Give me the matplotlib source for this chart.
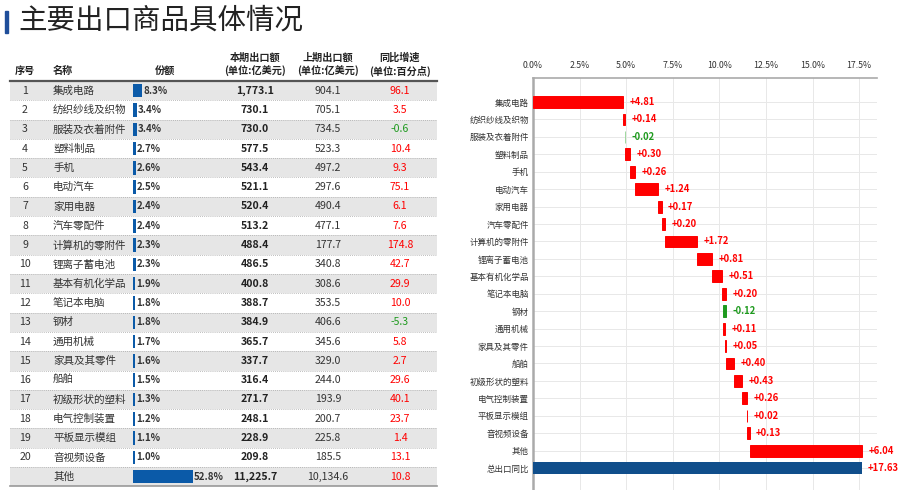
import numpy as np
import matplotlib
matplotlib.use("Agg")
import matplotlib.pyplot as plt

plt.rcParams['font.family'] = ['Noto Sans CJK SC', 'DejaVu Sans']

# ---- data ----
names = ['集成电路', '纺织纱线及织物', '服装及衣着附件', '塑料制品', '手机', '电动汽车',
         '家用电器', '汽车零配件', '计算机的零附件', '锂离子蓄电池', '基本有机化学品',
         '笔记本电脑', '钢材', '通用机械', '家具及其零件', '船舶', '初级形状的塑料',
         '电气控制装置', '平板显示模组', '音视频设备', '其他']
share = [8.3, 3.4, 3.4, 2.7, 2.6, 2.5, 2.4, 2.4, 2.3, 2.3, 1.9, 1.8, 1.8, 1.7, 1.6,
         1.5, 1.3, 1.2, 1.1, 1.0, 52.8]
cur_exp = [1773.1, 730.1, 730.0, 577.5, 543.4, 521.1, 520.4, 513.2, 488.4, 486.5,
           400.8, 388.7, 384.9, 365.7, 337.7, 316.4, 271.7, 248.1, 228.9, 209.8, 11225.7]
prev_exp = [904.1, 705.1, 734.5, 523.3, 497.2, 297.6, 490.4, 477.1, 177.7, 340.8,
            308.6, 353.5, 406.6, 345.6, 329.0, 244.0, 193.9, 200.7, 225.8, 185.5, 10134.6]
yoy = [96.1, 3.5, -0.6, 10.4, 9.3, 75.1, 6.1, 7.6, 174.8, 42.7, 29.9, 10.0, -5.3,
       5.8, 2.7, 29.6, 40.1, 23.7, 1.4, 13.1, 10.8]

contrib = [4.81, 0.14, -0.02, 0.30, 0.26, 1.24, 0.17, 0.20, 1.72, 0.81, 0.51, 0.20,
           -0.12, 0.11, 0.05, 0.40, 0.43, 0.26, 0.02, 0.13, 6.04]
total_label = '总出口同比'
total_value = 17.63
xticks = [0, 2.5, 5, 7.5, 10, 12.5, 15, 17.5]

RED = '#ff0000'
GREEN = '#1e9a1e'
BLUE = '#0b5aa8'
DARKBLUE = '#104e8b'

fig = plt.figure(figsize=(9, 4.9), dpi=100)

# ---- title ----
fig.patches.append(plt.Rectangle((5 / 900, 1 - 33 / 490), 3 / 900, 22 / 490,
                                 transform=fig.transFigure, color='#1f4e9a'))
fig.text(18 / 900, 1 - 21 / 490, '主要出口商品具体情况', fontsize=20.5,
         va='center', ha='left', color='#222222')

# ---- table (pixel-like coords) ----
ax = fig.add_axes([0, 0, 0.5, 1])
ax.set_xlim(0, 450)
ax.set_ylim(490, 0)
ax.axis('off')

x_no, x_name, x_bar, x_cur, x_prev, x_yoy = 25, 53, 133, 255, 328, 400
tab_l, tab_r = 10, 437
head_line = 81
row_h = 19.3
fs = 7.6

hdr = dict(fontsize=7.3, fontweight='bold', color='#222222', va='center')
ax.text(x_no, 71, '序号', ha='center', **hdr)
ax.text(x_name, 71, '名称', ha='left', **hdr)
ax.text(165, 71, '份额', ha='center', **hdr)
for xc, l1, l2 in [(x_cur, '本期出口额', '(单位:亿美元)'),
                   (x_prev, '上期出口额', '(单位:亿美元)'),
                   (x_yoy, '同比增速', '(单位:百分点)')]:
    ax.text(xc, 57.5, l1, ha='center', **hdr)
    ax.text(xc, 71, l2, ha='center', **hdr)
ax.plot([tab_l, tab_r], [head_line, head_line], color='#555555', lw=1.6)

n = len(names)
row_c = head_line + row_h * (np.arange(n) + 0.5)
for i in range(n):
    top = head_line + row_h * i
    if i % 2 == 0:
        ax.add_patch(plt.Rectangle((tab_l, top), tab_r - tab_l, row_h,
                                   color='#e6e6e6', zorder=0, lw=0))
    if i < n - 1:
        ax.plot([tab_l, tab_r], [top + row_h] * 2, color='#aaaaaa', lw=0.6,
                ls=(0, (1, 1.5)), zorder=1)
ax.plot([tab_l, tab_r], [head_line + row_h * n] * 2, color='#999999', lw=1.2)

bar_w = [max(s * 1.14, 2.0) for s in share]
ax.barh(row_c, bar_w, left=x_bar, height=13.5, color=BLUE, zorder=2)
for i in range(n):
    y = row_c[i]
    if i < n - 1:
        ax.text(x_no, y, str(i + 1), ha='center', va='center', fontsize=fs, color='#333333')
    ax.text(x_name, y, names[i], ha='left', va='center', fontsize=fs, color='#333333')
    ax.text(x_bar + bar_w[i] + 1, y, f'{share[i]:.1f}%', ha='left', va='center',
            fontsize=7, fontweight='bold', color='#333333')
    ax.text(x_cur, y, f'{cur_exp[i]:,.1f}', ha='center', va='center', fontsize=fs,
            fontweight='bold', color='#222222')
    ax.text(x_prev, y, f'{prev_exp[i]:,.1f}', ha='center', va='center', fontsize=fs,
            color='#333333')
    ax.text(x_yoy, y, f'{yoy[i]:.1f}', ha='center', va='center', fontsize=fs,
            color=RED if yoy[i] >= 0 else GREEN)

# ---- waterfall ----
axw = fig.add_axes([533 / 900, 0, (877 - 533) / 900, (490 - 78) / 490])
contrib = np.array(contrib)
ends = np.cumsum(contrib)
starts = ends - contrib
ypos = np.arange(len(contrib))
cols = [RED if c >= 0 else GREEN for c in contrib]
cols[2] = '#9ed89e'
axw.barh(ypos, contrib, left=starts, height=0.68, color=cols, edgecolor=cols,
         linewidth=0.7, zorder=3)
axw.barh(len(contrib), total_value, left=0, height=0.72, color=DARKBLUE, zorder=3)

for i, c in enumerate(contrib):
    xr = max(starts[i], ends[i])
    axw.text(xr + 0.35, i, f'{c:+.2f}', va='center', ha='left', fontsize=6.8,
             fontweight='bold', color=RED if c >= 0 else GREEN)
axw.text(total_value + 0.35, len(contrib), f'+{total_value:.2f}', va='center',
         ha='left', fontsize=6.8, fontweight='bold', color=RED, clip_on=False)

axw.set_yticks(list(ypos) + [len(contrib)])
axw.set_yticklabels(names + [total_label], fontsize=6.1)
axw.set_ylim(22.26, -1.38)
axw.set_xlim(0, 18.46)
axw.set_xticks(xticks)
axw.set_xticklabels([f'{t:.1f}%' for t in xticks], fontsize=6.3)
axw.xaxis.tick_top()
axw.tick_params(length=0, pad=3, colors='#333333')
axw.tick_params(axis='x', pad=6)
axw.grid(True, color='#e8e8e8', lw=0.7, zorder=0)
axw.set_axisbelow(True)
for s in ['right', 'bottom']:
    axw.spines[s].set_visible(False)
axw.spines['left'].set_color('#aaaaaa')
axw.spines['left'].set_linewidth(1.8)
axw.spines['top'].set_color('#aaaaaa')
axw.spines['top'].set_linewidth(1.2)

fig.savefig('out.png', dpi=100)
